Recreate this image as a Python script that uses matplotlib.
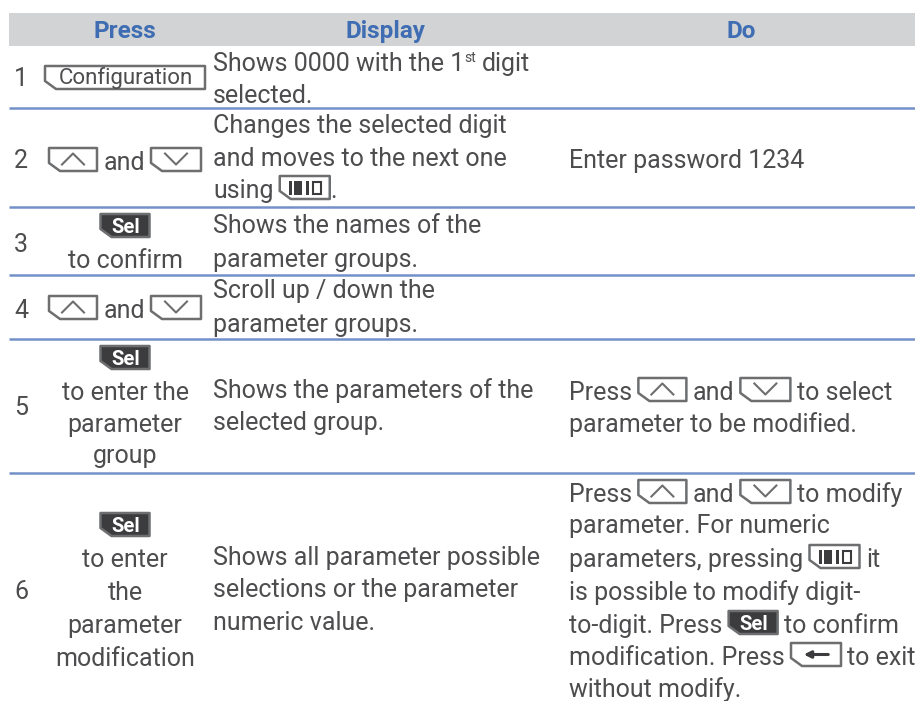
import re
import matplotlib
matplotlib.use('Agg')
import matplotlib.pyplot as plt
import matplotlib.patches as mpatches

# table content, tokens in brackets are the little key icons
headers = ['Press', 'Display', 'Do']
step_numbers = ['1', '2', '3', '4', '5', '6']

press_lines = ['[cfg]', '[up] and [down]', '[sel]', 'to confirm', '[up] and [down]',
               '[sel]', 'to enter the', 'parameter', 'group',
               '[sel]', 'to enter', 'the', 'parameter', 'modification']
display_lines = ['Shows 0000 with the 1[st] digit', 'selected.',
                 'Changes the selected digit', 'and moves to the next one', 'using [dig].',
                 'Shows the names of the', 'parameter groups.',
                 'Scroll up / down the', 'parameter groups.',
                 'Shows the parameters of the', 'selected group.',
                 'Shows all parameter possible', 'selections or the parameter', 'numeric value.']
do_lines = ['Enter password 1234',
            'Press [up] and [down] to select', 'parameter to be modified.',
            'Press [up] and [down] to modify', 'parameter. For numeric',
            'parameters, pressing [dig] it', 'is possible to modify digit-',
            'to-digit. Press [sel] to confirm', 'modification. Press [back] to exit',
            'without modify.']

# layout in pixels
number_y = [86, 168, 252, 318, 415, 599]
press_y = [88, 170, 236, 268, 318, 368, 400, 432, 463, 535, 567, 600, 633, 666]
display_y = [71, 103, 133, 166, 198, 233, 267, 298, 332, 398, 430, 565, 597, 630]
do_y = [168, 400, 432, 502, 533, 567, 600, 633, 665, 697]
rule_y = [108, 207, 275, 339, 473]

key_w = {'cfg': 160, 'up': 48, 'down': 50, 'sel': 49, 'dig': 50, 'back': 50}
text_col = '#4d4d4f'
blue = '#3f6db3'
rule_col = '#7391c8'
font = 'Roboto'
size = 18

fig = plt.figure(figsize=(9.15, 7.01), dpi=100)
ax = fig.add_axes([0, 0, 1, 1])
ax.set_xlim(0, 915)
ax.set_ylim(701, 0)
ax.axis('off')
renderer = fig.canvas.get_renderer()


def text_width(s, fs=size):
    t = ax.text(0, 0, s, fontsize=fs, family=font)
    w = t.get_window_extent(renderer).width
    t.remove()
    return w


def parts(line):
    return [p for p in re.split(r'(\[\w+\])', line) if p]


def part_width(p):
    if p == '[st]':
        return text_width('st', 10)
    if p.startswith('['):
        return key_w[p[1:-1]]
    # spaces at the ends get dropped by the extent, measure them with a guard
    return text_width('|' + p + '|') - text_width('||')


def draw_key(x, base, name):
    w = key_w[name]
    top = base - 22
    bot = base + 1
    dark = name == 'sel'
    pts = [(x, top), (x + w, top), (x + w, bot), (x + 11, bot), (x, bot - 8)]
    ax.add_patch(mpatches.Polygon(pts, closed=True, facecolor='#3c3c3e' if dark else 'white',
                                  edgecolor='#6d6e70', lw=1.8, joinstyle='round'))
    mid = (top + bot) / 2
    cx = x + w / 2
    if name == 'sel':
        ax.text(cx + 1, base - 3, 'Sel', color='white', fontsize=14.5, family=font,
                fontweight='bold', ha='center', va='baseline')
    elif name == 'cfg':
        ax.text(cx + 1, base - 4, 'Configuration', color=text_col, fontsize=16, family=font,
                ha='center', va='baseline')
    elif name == 'up':
        ax.plot([cx - 11, cx, cx + 11], [mid + 5, mid - 6, mid + 5], color='#6d6e70', lw=1.5)
    elif name == 'down':
        ax.plot([cx - 11, cx, cx + 11], [mid - 6, mid + 5, mid - 6], color='#6d6e70', lw=1.5)
    elif name == 'back':
        ax.annotate('', xy=(cx - 15, mid), xytext=(cx + 15, mid),
                    arrowprops=dict(arrowstyle='-|>', color='#3c3c3e', lw=2.2))
    elif name == 'dig':
        for dx, bw in [(9, 3), (14, 8), (26, 3)]:
            ax.add_patch(mpatches.Rectangle((x + dx, mid - 7), bw, 14, color='#3c3c3e', lw=0))
        ax.add_patch(mpatches.Rectangle((x + 33, mid - 6), 8, 12, facecolor='white',
                                        edgecolor='#3c3c3e', lw=1.5))


def draw_line(x, base, line, center=False):
    items = parts(line)
    if center:
        x -= sum(part_width(p) for p in items) / 2
    for p in items:
        if p == '[st]':
            ax.text(x, base - 9, 'st', color=text_col, fontsize=10, family=font, va='baseline')
        elif p.startswith('['):
            draw_key(x, base, p[1:-1])
        else:
            lead = len(p) - len(p.lstrip())
            ax.text(x + (part_width(' ') if lead else 0), base, p.strip(), color=text_col,
                    fontsize=size, family=font, va='baseline')
        x += part_width(p)


# header band and row rules
ax.add_patch(mpatches.Rectangle((9, 13), 906, 33, color='#d1d3d4', lw=0))
for y in rule_y:
    ax.plot([9, 915], [y, y], color=rule_col, lw=1.8, solid_capstyle='butt')

for h, cx in zip(headers, [125, 385, 741]):
    ax.text(cx, 38, h, color=blue, fontsize=17.5, fontweight='bold', family=font,
            ha='center', va='baseline')

for n, y in zip(step_numbers, number_y):
    ax.text(21, y, n, color=text_col, fontsize=size, family=font, ha='center', va='baseline')

for line, y in zip(press_lines, press_y):
    draw_line(125, y, line, center=True)
for line, y in zip(display_lines, display_y):
    draw_line(213, y, line)
for line, y in zip(do_lines, do_y):
    draw_line(569, y, line)

fig.savefig('out.png', dpi=100)
